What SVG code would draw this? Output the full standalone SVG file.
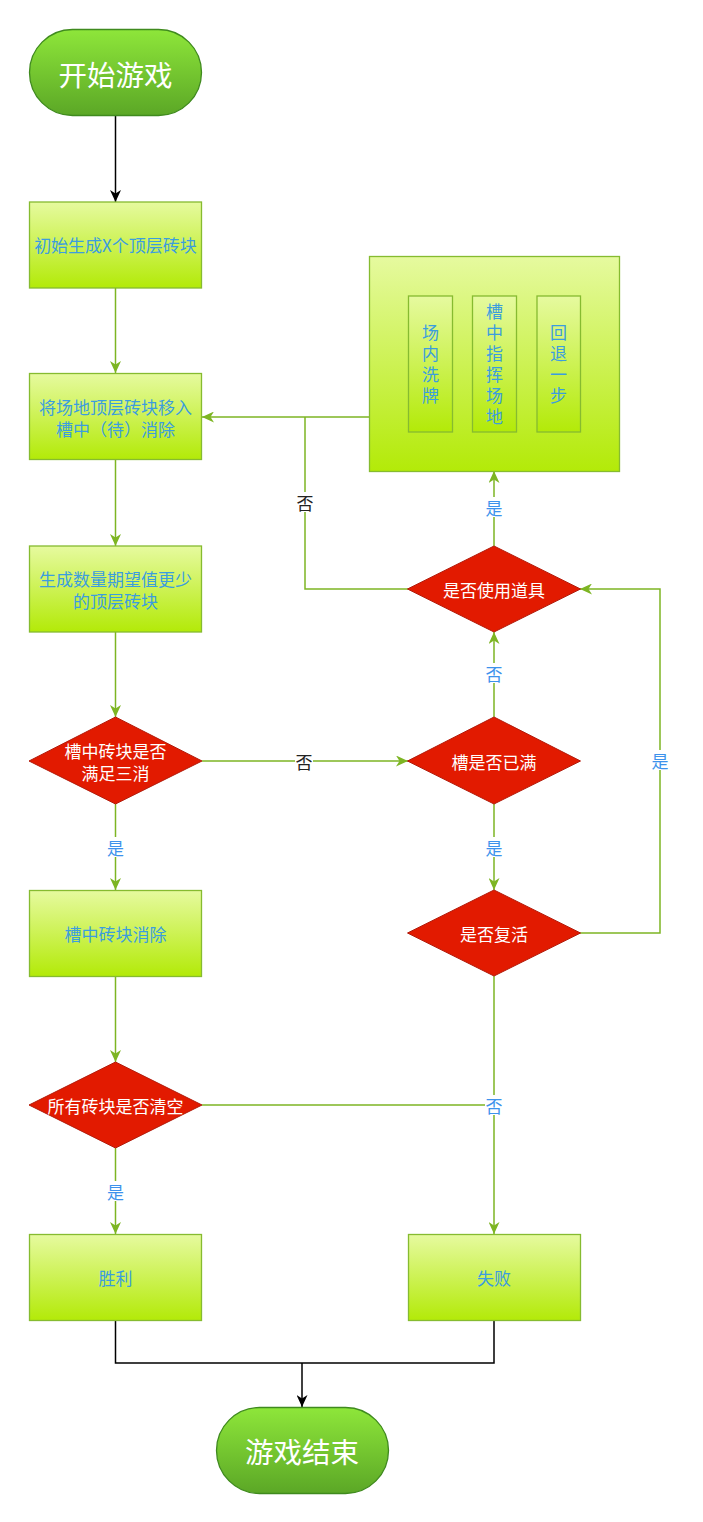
<svg xmlns="http://www.w3.org/2000/svg" width="703" height="1522" viewBox="0 0 703 1522">
<defs>
<linearGradient id="gBox" x1="0" y1="0" x2="0" y2="1">
<stop offset="0" stop-color="#e6fa9f"/>
<stop offset="1" stop-color="#b3ea08"/>
</linearGradient>
<linearGradient id="gTerm" x1="0" y1="0" x2="0" y2="1">
<stop offset="0" stop-color="#8ee63a"/>
<stop offset="1" stop-color="#5ba726"/>
</linearGradient>
<marker id="aG" viewBox="0 0 12 11" refX="12" refY="5.5" markerWidth="12" markerHeight="11" markerUnits="userSpaceOnUse" orient="auto">
<path d="M0,0 L12,5.5 L0,11 L3.5,5.5 Z" fill="#7db523"/>
</marker>
<marker id="aK" viewBox="0 0 12 11" refX="12" refY="5.5" markerWidth="12" markerHeight="11" markerUnits="userSpaceOnUse" orient="auto">
<path d="M0,0 L12,5.5 L0,11 L3.5,5.5 Z" fill="#000"/>
</marker>
</defs>
<style>
.box{fill:url(#gBox);stroke:#86bb30;stroke-width:1.3}
.term{fill:url(#gTerm);stroke:#3f8a1e;stroke-width:1.3}
.dia{fill:#e21a00;stroke:#b21a0a;stroke-width:1}
.t{font-family:"Microsoft YaHei","Noto Sans CJK SC",sans-serif;font-size:17px;text-anchor:middle;dominant-baseline:central}
.v{font-family:"Microsoft YaHei","Noto Sans CJK SC",sans-serif;font-size:17px;text-anchor:middle;writing-mode:vertical-rl;letter-spacing:4px}
.bt{fill:#3b9ddf}
.wt{fill:#ffffff}
.tt{font-size:28.5px}
.lb{fill:#3d92ec}
.lk{fill:#222}
.cg{fill:none;stroke:#7db523;stroke-width:1.5}
.ck{fill:none;stroke:#000;stroke-width:1.5}
.lbg{fill:#fff}
</style>
<rect width="703" height="1522" fill="#fff"/>
<g id="connectors">
<path class="ck" d="M115.5,116 V202" marker-end="url(#aK)"/>
<path class="cg" d="M115.5,288 V373" marker-end="url(#aG)"/>
<path class="cg" d="M369,417 H202" marker-end="url(#aG)"/>
<path class="cg" d="M408,589 H305 V417"/>
<path class="cg" d="M115.5,460 V546" marker-end="url(#aG)"/>
<path class="cg" d="M115.5,632 V717" marker-end="url(#aG)"/>
<path class="cg" d="M202,761 H408" marker-end="url(#aG)"/>
<path class="cg" d="M115.5,804 V890" marker-end="url(#aG)"/>
<path class="cg" d="M115.5,977 V1062" marker-end="url(#aG)"/>
<path class="cg" d="M115.5,1148 V1234" marker-end="url(#aG)"/>
<path class="cg" d="M202,1105 H494"/>
<path class="cg" d="M494,976 V1234" marker-end="url(#aG)"/>
<path class="cg" d="M494,717 V632" marker-end="url(#aG)"/>
<path class="cg" d="M494,804 V890" marker-end="url(#aG)"/>
<path class="cg" d="M580,933 H660 V589 H580" marker-end="url(#aG)"/>
<path class="cg" d="M494,546 V471" marker-end="url(#aG)"/>
<path class="ck" d="M115.5,1320 V1363 H494 V1320"/>
<path class="ck" d="M302,1363 V1407" marker-end="url(#aK)"/>
<rect class="lbg" x="296" y="492" width="18" height="20"/>
<text class="t lk" x="305" y="502">否</text>
<rect class="lbg" x="295" y="751" width="18" height="20"/>
<text class="t lk" x="304" y="761">否</text>
<rect class="lbg" x="106" y="837" width="19" height="20"/>
<text class="t lb" x="115.5" y="847">是</text>
<rect class="lbg" x="106" y="1181" width="19" height="20"/>
<text class="t lb" x="115.5" y="1191">是</text>
<rect class="lbg" x="485" y="1095" width="18" height="20"/>
<text class="t lb" x="494" y="1105">否</text>
<rect class="lbg" x="485" y="663" width="18" height="20"/>
<text class="t lb" x="494" y="673">否</text>
<rect class="lbg" x="485" y="837" width="18" height="20"/>
<text class="t lb" x="494" y="847">是</text>
<rect class="lbg" x="651" y="750" width="18" height="20"/>
<text class="t lb" x="660" y="760">是</text>
<rect class="lbg" x="485" y="497" width="18" height="20"/>
<text class="t lb" x="494" y="507">是</text>
</g>
<g id="start">
<rect class="term" x="29.5" y="29.5" width="172" height="86" rx="43" ry="43"/>
<text class="t wt tt" x="115.5" y="73">开始游戏</text>
</g>
<g id="init">
<rect class="box" x="29.5" y="202" width="172" height="86"/>
<text class="t bt" x="115.5" y="244">初始生成X个顶层砖块</text>
</g>
<g id="move">
<rect class="box" x="29.5" y="373.5" width="172" height="86"/>
<text class="t bt" x="115.5" y="406">将场地顶层砖块移入</text>
<text class="t bt" x="115.5" y="428">槽中（待）消除</text>
</g>
<g id="gen">
<rect class="box" x="29.5" y="546" width="172" height="86"/>
<text class="t bt" x="115.5" y="578">生成数量期望值更少</text>
<text class="t bt" x="115.5" y="600">的顶层砖块</text>
</g>
<g id="check3">
<polygon class="dia" points="115.5,717 202,761 115.5,804 29,761"/>
<text class="t wt" x="115.5" y="750">槽中砖块是否</text>
<text class="t wt" x="115.5" y="772">满足三消</text>
</g>
<g id="elim">
<rect class="box" x="29.5" y="890.5" width="172" height="86"/>
<text class="t bt" x="115.5" y="933">槽中砖块消除</text>
</g>
<g id="clear">
<polygon class="dia" points="115.5,1062 202,1105 115.5,1148 29,1105"/>
<text class="t wt" x="115.5" y="1105">所有砖块是否清空</text>
</g>
<g id="win">
<rect class="box" x="29.5" y="1234.5" width="172" height="86"/>
<text class="t bt" x="115.5" y="1277">胜利</text>
</g>
<g id="lose">
<rect class="box" x="408.5" y="1234.5" width="172" height="86"/>
<text class="t bt" x="494" y="1277">失败</text>
</g>
<g id="end">
<rect class="term" x="216.5" y="1407.5" width="172" height="86" rx="43" ry="43"/>
<text class="t wt tt" x="302" y="1450">游戏结束</text>
</g>
<g id="useItem">
<polygon class="dia" points="494,546 580.5,589 494,632 407.5,589"/>
<text class="t wt" x="494" y="589">是否使用道具</text>
</g>
<g id="full">
<polygon class="dia" points="494,717 580.5,761 494,804 407.5,761"/>
<text class="t wt" x="494" y="761">槽是否已满</text>
</g>
<g id="revive">
<polygon class="dia" points="494,890 580.5,933 494,976 407.5,933"/>
<text class="t wt" x="494" y="933">是否复活</text>
</g>
<g id="items">
<rect class="box" x="369.5" y="256.5" width="250" height="215"/>
<rect class="box" x="408.5" y="296" width="44" height="136"/>
<rect class="box" x="472.5" y="296" width="44" height="136"/>
<rect class="box" x="537" y="296" width="43.5" height="136"/>
<text class="v bt" x="430.5" y="366">场内洗牌</text>
<text class="v bt" x="494.5" y="366">槽中指挥场地</text>
<text class="v bt" x="558.5" y="366">回退一步</text>
</g>
</svg>
